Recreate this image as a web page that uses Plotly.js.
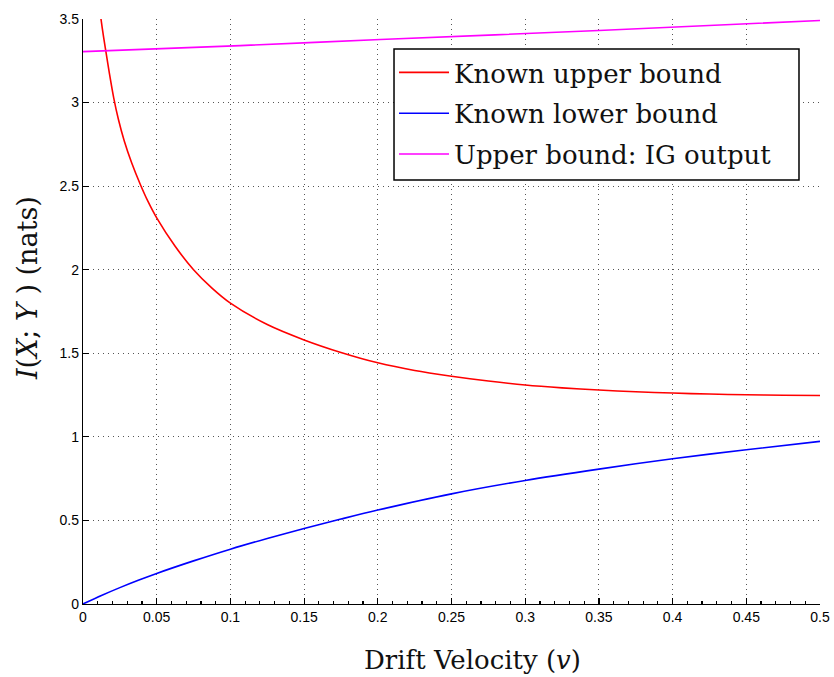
<!DOCTYPE html>
<html>
<head>
<meta charset="utf-8">
<script src="https://cdn.plot.ly/plotly-3.0.1.min.js"></script>
<style>html,body{margin:0;padding:0;background:#fff;}#chart{width:834px;height:677px;}</style>
</head>
<body>
<div id="chart"></div>
<script>
// Known upper bound (red)
const upperV = [0.011, 0.0122, 0.014, 0.016, 0.018, 0.0208, 0.024, 0.028, 0.033, 0.0389, 0.044, 0.05, 0.0625, 0.075, 0.0875, 0.1, 0.125, 0.15, 0.175, 0.2, 0.225, 0.25, 0.275, 0.3, 0.325, 0.35, 0.375, 0.4, 0.425, 0.45, 0.475, 0.5];
const upperI = [3.58, 3.50, 3.39, 3.28, 3.17, 3.03, 2.90, 2.77, 2.64, 2.51, 2.41, 2.31, 2.14, 2.00, 1.89, 1.80, 1.672, 1.58, 1.505, 1.443, 1.397, 1.363, 1.334, 1.31, 1.293, 1.28, 1.27, 1.262, 1.256, 1.252, 1.249, 1.247];
// Known lower bound (blue)
const lowerV = [0, 0.0125, 0.025, 0.0375, 0.05, 0.075, 0.1, 0.125, 0.15, 0.175, 0.2, 0.25, 0.3, 0.35, 0.4, 0.45, 0.5];
const lowerI = [0, 0.051, 0.098, 0.142, 0.183, 0.258, 0.328, 0.392, 0.452, 0.508, 0.562, 0.659, 0.739, 0.807, 0.869, 0.923, 0.973];
// Upper bound: IG output (magenta)
const igV = [0, 0.1067, 0.2017, 0.35, 0.5];
const igI = [3.305, 3.341, 3.377, 3.431, 3.491];

const names = ['Known upper bound', 'Known lower bound', 'Upper bound: IG output'];
const colors = ['#ff0000', '#0000ff', '#ff00ff'];
const xTitle = 'Drift Velocity (<i>v</i>)';
const yTitle = '<i>I</i>(<i>X</i>; <i>Y</i> ) (nats)';

const traces = [
  {x: upperV, y: upperI, name: names[0], legendgroup: 'a', mode: 'lines', line: {color: colors[0], width: 1.6, shape: 'spline', smoothing: 0.8}},
  {x: lowerV, y: lowerI, name: names[1], legendgroup: 'b', mode: 'lines', line: {color: colors[1], width: 1.6, shape: 'spline', smoothing: 0.8}},
  {x: igV, y: igI, name: names[2], legendgroup: 'c', mode: 'lines', line: {color: colors[2], width: 1.6, shape: 'spline', smoothing: 0.8}}
];

const tickFont = {family: 'Liberation Sans, Arial, sans-serif', size: 14, color: '#000'};
const serif = 'DejaVu Serif, Liberation Serif, serif';

const layout = {
  width: 834, height: 677,
  margin: {l: 83, r: 14, t: 19, b: 73},
  paper_bgcolor: '#fff', plot_bgcolor: 'rgba(0,0,0,0)',
  showlegend: true,
  legend: {
    x: 0.422, y: 0.9487, xanchor: 'left', yanchor: 'top',
    bgcolor: 'rgba(0,0,0,0)', borderwidth: 0,
    font: {family: serif, size: 26, color: '#111'},
    itemwidth: 50,
    tracegroupgap: 4
  },
  shapes: [{
    type: 'rect', xref: 'paper', yref: 'paper', layer: 'above',
    x0: 0.422, x1: 0.9715, y0: 0.7248, y1: 0.9487,
    fillcolor: '#fff', line: {color: '#000', width: 1.5}
  }],
  xaxis: {
    range: [0, 0.5], dtick: 0.05, tick0: 0,
    showline: true, linecolor: '#000', linewidth: 1.2,
    ticks: 'inside', ticklen: 6, tickcolor: '#000', tickwidth: 1.2,
    minor: {dtick: 0.01, ticks: 'inside', ticklen: 3, tickcolor: '#000', showgrid: false},
    showgrid: true, gridcolor: '#555', griddash: '1px,4px', gridwidth: 1,
    zeroline: false, tickfont: tickFont
  },
  yaxis: {
    range: [0, 3.5], dtick: 0.5, tick0: 0,
    showline: true, linecolor: '#000', linewidth: 1.2,
    ticks: 'inside', ticklen: 6, tickcolor: '#000', tickwidth: 1.2,
    showgrid: true, gridcolor: '#555', griddash: '1px,4px', gridwidth: 1,
    zeroline: false, tickfont: tickFont
  },
  annotations: [{
    text: yTitle, xref: 'paper', yref: 'paper', x: -0.076, y: 0.54,
    xanchor: 'center', yanchor: 'middle', textangle: -90, showarrow: false,
    font: {family: serif, size: 27, color: '#111'}
  }, {
    text: xTitle, xref: 'paper', yref: 'paper', x: 0.528, y: -0.0957,
    xanchor: 'center', yanchor: 'middle', showarrow: false,
    font: {family: serif, size: 26, color: '#111'}
  }]
};

Plotly.newPlot('chart', traces, layout, {displayModeBar: false, staticPlot: true});
</script>
</body>
</html>
